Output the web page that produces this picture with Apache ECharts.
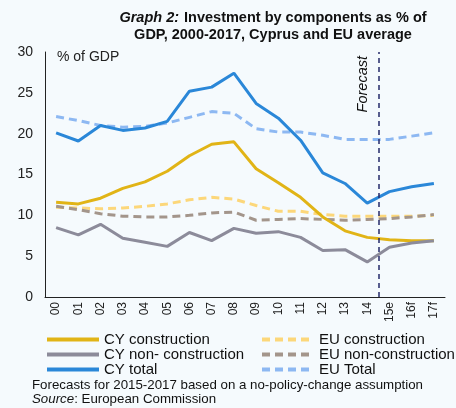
<!DOCTYPE html>
<html>
<head>
<meta charset="utf-8">
<script src="https://cdn.jsdelivr.net/npm/echarts@6/dist/echarts.min.js"></script>
<style>
  html, body { margin: 0; padding: 0; background: #f5fafd; }
  #chart { width: 456px; height: 408px; }
</style>
</head>
<body>
<div id="chart"></div>
<script>
// years 2000-2017, last three are estimate / forecast
var years = ['00', '01', '02', '03', '04', '05', '06', '07', '08', '09', '10', '11', '12', '13', '14', '15e', '16f', '17f'];

var cyConstruction = [11.6, 11.4, 12.1, 13.3, 14.1, 15.4, 17.3, 18.7, 19.0, 15.7, 14.0, 12.2, 9.8, 8.1, 7.3, 7.0, 6.9, 6.9];
var cyNonConstruction = [8.5, 7.6, 8.9, 7.2, 6.7, 6.2, 7.9, 6.9, 8.4, 7.8, 8.0, 7.3, 5.7, 5.8, 4.3, 6.1, 6.6, 6.9];
var cyTotal = [20.1, 19.1, 21.0, 20.4, 20.7, 21.5, 25.2, 25.7, 27.4, 23.7, 21.9, 19.2, 15.2, 13.9, 11.5, 12.9, 13.5, 13.9];
var euConstruction = [11.0, 10.9, 10.8, 10.9, 11.1, 11.4, 11.9, 12.2, 12.0, 11.2, 10.5, 10.5, 10.1, 9.9, 9.9, 9.9, 9.9, 10.0];
var euNonConstruction = [11.1, 10.7, 10.2, 9.9, 9.8, 9.8, 10.0, 10.3, 10.4, 9.4, 9.5, 9.6, 9.5, 9.4, 9.5, 9.6, 9.8, 10.1];
var euTotal = [22.1, 21.6, 21.0, 20.8, 20.9, 21.3, 22.0, 22.7, 22.5, 20.6, 20.2, 20.2, 19.8, 19.3, 19.3, 19.3, 19.7, 20.1];

var forecastAt = 15; // boundary between 14 and 15e on a 0..18 band scale

var font = 'Liberation Sans, Arial, sans-serif';

function lineSeries(name, data, color, dashed) {
  return {
    name: name,
    type: 'line',
    data: data,
    symbol: 'none',
    z: dashed ? 2 : 3,
    lineStyle: {
      color: color,
      width: 3,
      type: dashed ? [8, 5] : 'solid'
    },
    itemStyle: { color: color }
  };
}

function legendBlock(left, names) {
  return {
    orient: 'vertical',
    left: left,
    top: 332,
    padding: 0,
    itemWidth: 52,
    itemHeight: 8,
    itemGap: 0,
    itemStyle: { opacity: 0 },
    lineStyle: { width: 4 },
    textStyle: { fontSize: 15, color: '#111', fontFamily: font },
    data: names
  };
}

var chart = echarts.init(document.getElementById('chart'));
chart.setOption({
  backgroundColor: '#f5fafd',
  animation: false,
  textStyle: { fontFamily: font },
  title: {
    left: 268,
    top: 4,
    textAlign: 'center',
    text: '{i|Graph 2:} {b|Investment by components as % of}\n{b|GDP, 2000-2017, Cyprus and EU average}',
    textStyle: {
      rich: {
        i: { fontStyle: 'italic', fontSize: 14.5, color: '#111', fontFamily: font, lineHeight: 16 },
        b: { fontWeight: 'bold', fontSize: 14.5, color: '#111', fontFamily: font, lineHeight: 16 }
      }
    }
  },
  grid: { left: 45, right: 11, top: 52, bottom: 111 },
  legend: [
    legendBlock(45, ['CY construction', 'CY non- construction', 'CY total']),
    legendBlock(260, ['EU construction', 'EU non-construction', 'EU Total'])
  ],
  xAxis: [
    {
      type: 'category',
      data: years,
      boundaryGap: true,
      axisLine: { lineStyle: { color: '#222', width: 1 } },
      axisTick: { show: false },
      axisLabel: { rotate: 90, fontSize: 12, color: '#222', margin: 5, fontFamily: font }
    },
    {
      type: 'value',
      min: 0,
      max: 18,
      show: false
    }
  ],
  yAxis: {
    type: 'value',
    min: 0,
    max: 30,
    interval: 5,
    name: '% of GDP',
    nameLocation: 'end',
    nameGap: -12,
    nameTextStyle: { align: 'left', padding: [0, 0, 0, 12], fontSize: 14, color: '#222', fontFamily: font },
    axisLine: { show: true, lineStyle: { color: '#222', width: 1 } },
    axisTick: { show: false },
    splitLine: { show: false },
    axisLabel: { fontSize: 14, color: '#222', margin: 12, fontFamily: font }
  },
  series: [
    lineSeries('CY construction', cyConstruction, '#e1b416', false),
    lineSeries('EU construction', euConstruction, '#fcd77a', true),
    lineSeries('CY non- construction', cyNonConstruction, '#8c8b9a', false),
    lineSeries('EU non-construction', euNonConstruction, '#a3958b', true),
    lineSeries('CY total', cyTotal, '#2a87d8', false),
    lineSeries('EU Total', euTotal, '#8db8f2', true),
    {
      type: 'line',
      xAxisIndex: 1,
      data: [],
      silent: true,
      markLine: {
        symbol: 'none',
        silent: true,
        lineStyle: { color: '#252a6a', width: 1.5, type: [5, 4] },
        label: {
          show: true,
          formatter: 'Forecast',
          position: 'insideEndTop',
          distance: [4, 8],
          fontStyle: 'italic',
          fontSize: 14.5,
          color: '#111',
          fontFamily: font
        },
        data: [{ xAxis: forecastAt }]
      }
    }
  ],
  graphic: [
    {
      type: 'text',
      left: 32,
      top: 379,
      style: {
        text: 'Forecasts for 2015-2017 based on a no-policy-change assumption\n{i|Source}: European Commission',
        font: '13.3px ' + font,
        fill: '#111',
        lineHeight: 13.5,
        rich: {
          i: { fontStyle: 'italic', fontSize: 13.3, fontFamily: font, fill: '#111' }
        }
      }
    }
  ]
});
</script>
</body>
</html>
